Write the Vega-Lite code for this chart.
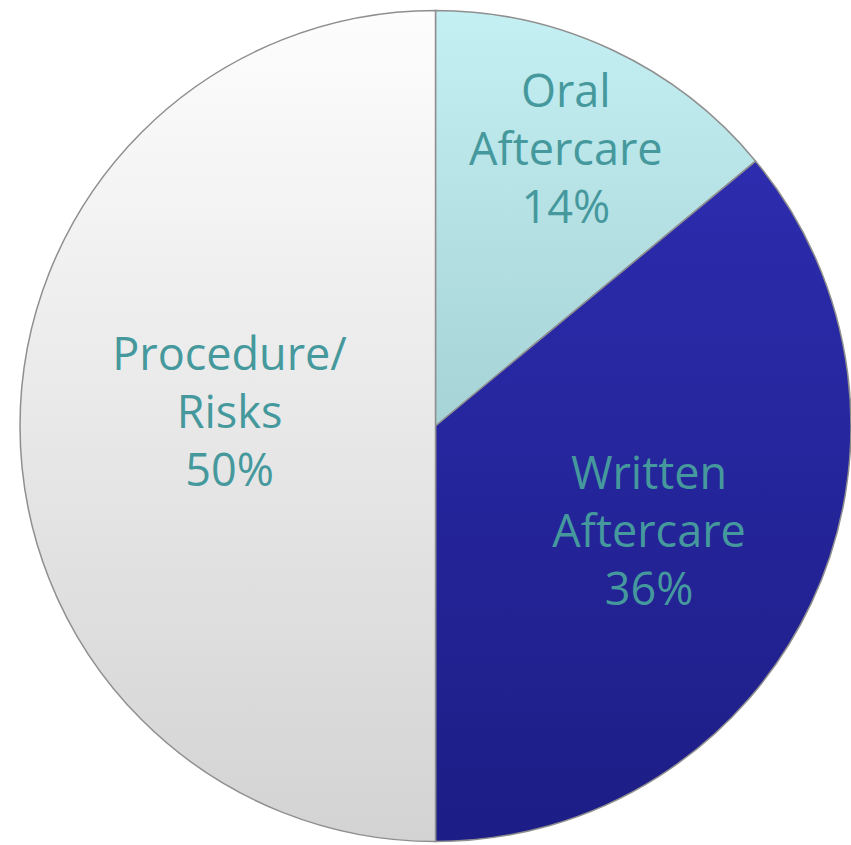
{
  "$schema": "https://vega.github.io/schema/vega-lite/v6.json",
  "width": 851,
  "height": 845,
  "autosize": {"type": "fit", "contains": "padding"},
  "padding": {"left": 20, "top": 7, "right": 0, "bottom": 0},
  "background": "white",
  "config": {"view": {"stroke": null}},
  "data": {
    "values": [
      {"category": "Oral Aftercare", "label": "Oral\nAftercare\n14%", "value": 14},
      {"category": "Written Aftercare", "label": "Written\nAftercare\n36%", "value": 36},
      {"category": "Procedure/Risks", "label": "Procedure/\nRisks\n50%", "value": 50}
    ]
  },
  "encoding": {
    "theta": {"field": "value", "type": "quantitative", "stack": true, "scale": {"domain": [0, 100]}},
    "order": {"field": "value", "type": "quantitative", "sort": "ascending"}
  },
  "layer": [
    {
      "mark": {"type": "arc", "stroke": "#8f8f8f", "strokeWidth": 1.5},
      "encoding": {
        "fill": {
          "condition": [
            {"test": "datum.category === 'Oral Aftercare'", "value": {"gradient": "linear", "x1": 0, "y1": 0, "x2": 0, "y2": 1, "stops": [{"offset": 0, "color": "#c4eff3"}, {"offset": 1, "color": "#a6d3d6"}]}},
            {"test": "datum.category === 'Written Aftercare'", "value": {"gradient": "linear", "x1": 0, "y1": 0, "x2": 0, "y2": 1, "stops": [{"offset": 0, "color": "#2c2cae"}, {"offset": 1, "color": "#1d1d86"}]}}
          ],
          "value": {"gradient": "linear", "x1": 0, "y1": 0, "x2": 0, "y2": 1, "stops": [{"offset": 0, "color": "#fdfdfd"}, {"offset": 1, "color": "#d3d3d3"}]}
        }
      }
    },
    {
      "mark": {"type": "text", "radius": 306, "dy": -56, "font": "Open Sans", "fontSize": 45, "lineHeight": 58, "lineBreak": "\n", "fill": "#45999d", "align": "center", "baseline": "middle"},
      "encoding": {"text": {"condition": {"test": "datum.category === 'Oral Aftercare'", "field": "label"}, "value": ""}}
    },
    {
      "mark": {"type": "text", "radius": 236, "dy": -51, "font": "Open Sans", "fontSize": 45, "lineHeight": 58, "lineBreak": "\n", "fill": "#45999d", "align": "center", "baseline": "middle"},
      "encoding": {"text": {"condition": {"test": "datum.category === 'Written Aftercare'", "field": "label"}, "value": ""}}
    },
    {
      "mark": {"type": "text", "radius": 206, "dy": -70, "font": "Open Sans", "fontSize": 45, "lineHeight": 58, "lineBreak": "\n", "fill": "#45999d", "align": "center", "baseline": "middle"},
      "encoding": {"text": {"condition": {"test": "datum.category === 'Procedure/Risks'", "field": "label"}, "value": ""}}
    }
  ]
}
